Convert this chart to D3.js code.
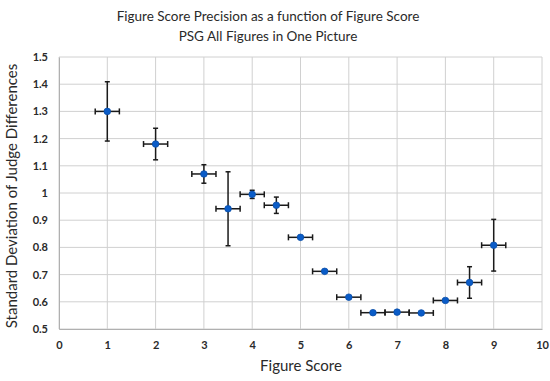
<!DOCTYPE html>
<html>
<head>
<meta charset="utf-8">
<script src="https://cdn.jsdelivr.net/npm/d3@7"></script>
<style>
  body { margin: 0; background: #fff; }
  text { font-family: Lato, "Open Sans", sans-serif; fill: #2a2a2a; }
</style>
</head>
<body>
<div id="chart"></div>
<script>
// figure score vs. std dev of judge differences
var scores = [1, 2, 3, 3.5, 4, 4.5, 5, 5.5, 6, 6.5, 7, 7.5, 8, 8.5, 9];
var stdDev = [1.30, 1.18, 1.07, 0.942, 0.995, 0.955, 0.837, 0.712, 0.617, 0.560, 0.562, 0.559, 0.605, 0.671, 0.808];
var yErr = [0.109, 0.058, 0.034, 0.136, 0.015, 0.030, 0.004, 0.005, 0.004, 0.003, 0.003, 0.003, 0.006, 0.058, 0.095];
var xErr = [0.25, 0.25, 0.25, 0.25, 0.25, 0.25, 0.25, 0.25, 0.25, 0.25, 0.25, 0.25, 0.25, 0.25, 0.25];
var xTicks = [0, 1, 2, 3, 4, 5, 6, 7, 8, 9, 10];
var yTicks = [0.5, 0.6, 0.7, 0.8, 0.9, 1, 1.1, 1.2, 1.3, 1.4, 1.5];

var w = 550, h = 381;
var plotL = 59, plotR = 542, plotT = 57, plotB = 329;

var svg = d3.select('#chart').append('svg')
  .attr('width', w)
  .attr('height', h);

var x = d3.scaleLinear().domain([0, 10]).range([plotL, plotR]);
var y = d3.scaleLinear().domain([0.5, 1.5]).range([plotB, plotT]);

// gridlines
svg.selectAll('.vgrid')
  .data(xTicks).enter()
  .append('line')
  .attr('x1', function(d) { return x(d); })
  .attr('x2', function(d) { return x(d); })
  .attr('y1', plotT)
  .attr('y2', plotB)
  .attr('stroke', '#d0d0d0')
  .attr('stroke-width', 1);

svg.selectAll('.hgrid')
  .data(yTicks).enter()
  .append('line')
  .attr('x1', plotL)
  .attr('x2', plotR)
  .attr('y1', function(d) { return y(d); })
  .attr('y2', function(d) { return y(d); })
  .attr('stroke', '#d0d0d0')
  .attr('stroke-width', 1);

// axes (labels only, lines drawn by grid)
var xAxis = svg.append('g')
  .attr('transform', 'translate(0,' + plotB + ')')
  .call(d3.axisBottom(x).tickValues(xTicks).tickSize(0).tickPadding(12).tickFormat(d3.format('d')));
xAxis.select('.domain').attr('stroke', '#b0b0b0');
xAxis.selectAll('text').style('font-size', '11px').style('font-weight', 'bold').attr('fill', '#1e1e1e');

var yAxis = svg.append('g')
  .attr('transform', 'translate(' + plotL + ',0)')
  .call(d3.axisLeft(y).tickValues(yTicks).tickSize(0).tickPadding(11).tickFormat(function(d) { return String(d); }));
yAxis.select('.domain').attr('stroke', '#b0b0b0');
yAxis.selectAll('text').style('font-size', '11px').style('font-weight', 'bold').attr('fill', '#1e1e1e');

// error bars
var data = scores.map(function(s, i) {
  return { x: s, y: stdDev[i], ex: xErr[i], ey: yErr[i] };
});

var bars = svg.append('g').attr('stroke', '#1a1a1a').attr('stroke-width', 1.5);

bars.selectAll('.ex').data(data).enter().append('line')
  .attr('x1', function(d) { return x(d.x - d.ex); })
  .attr('x2', function(d) { return x(d.x + d.ex); })
  .attr('y1', function(d) { return y(d.y); })
  .attr('y2', function(d) { return y(d.y); });

bars.selectAll('.exl').data(data).enter().append('line')
  .attr('x1', function(d) { return x(d.x - d.ex); })
  .attr('x2', function(d) { return x(d.x - d.ex); })
  .attr('y1', function(d) { return y(d.y) - 3; })
  .attr('y2', function(d) { return y(d.y) + 3; });

bars.selectAll('.exr').data(data).enter().append('line')
  .attr('x1', function(d) { return x(d.x + d.ex); })
  .attr('x2', function(d) { return x(d.x + d.ex); })
  .attr('y1', function(d) { return y(d.y) - 3; })
  .attr('y2', function(d) { return y(d.y) + 3; });

bars.selectAll('.ey').data(data).enter().append('line')
  .attr('x1', function(d) { return x(d.x); })
  .attr('x2', function(d) { return x(d.x); })
  .attr('y1', function(d) { return y(d.y - d.ey); })
  .attr('y2', function(d) { return y(d.y + d.ey); });

bars.selectAll('.eyt').data(data).enter().append('line')
  .attr('x1', function(d) { return x(d.x) - 2.5; })
  .attr('x2', function(d) { return x(d.x) + 2.5; })
  .attr('y1', function(d) { return y(d.y + d.ey); })
  .attr('y2', function(d) { return y(d.y + d.ey); });

bars.selectAll('.eyb').data(data).enter().append('line')
  .attr('x1', function(d) { return x(d.x) - 2.5; })
  .attr('x2', function(d) { return x(d.x) + 2.5; })
  .attr('y1', function(d) { return y(d.y - d.ey); })
  .attr('y2', function(d) { return y(d.y - d.ey); });

// markers
svg.selectAll('.dot').data(data).enter().append('circle')
  .attr('cx', function(d) { return x(d.x); })
  .attr('cy', function(d) { return y(d.y); })
  .attr('r', 3.3)
  .attr('fill', '#0a5cc8')
  .attr('stroke', '#0b4fa8')
  .attr('stroke-width', 0.8);

// titles
svg.append('text')
  .attr('x', 268).attr('y', 21)
  .attr('text-anchor', 'middle')
  .style('font-size', '13.5px')
  .text('Figure Score Precision as a function of Figure Score');

svg.append('text')
  .attr('x', 268).attr('y', 41)
  .attr('text-anchor', 'middle')
  .style('font-size', '13.5px')
  .text('PSG All Figures in One Picture');

svg.append('text')
  .attr('x', 301).attr('y', 371)
  .attr('text-anchor', 'middle')
  .style('font-size', '15px')
  .text('Figure Score');

svg.append('text')
  .attr('transform', 'translate(12,196) rotate(-90)')
  .attr('text-anchor', 'middle')
  .attr('dy', '0.35em')
  .style('font-size', '15px')
  .text('Standard Deviation of Judge Differences');
</script>
</body>
</html>
